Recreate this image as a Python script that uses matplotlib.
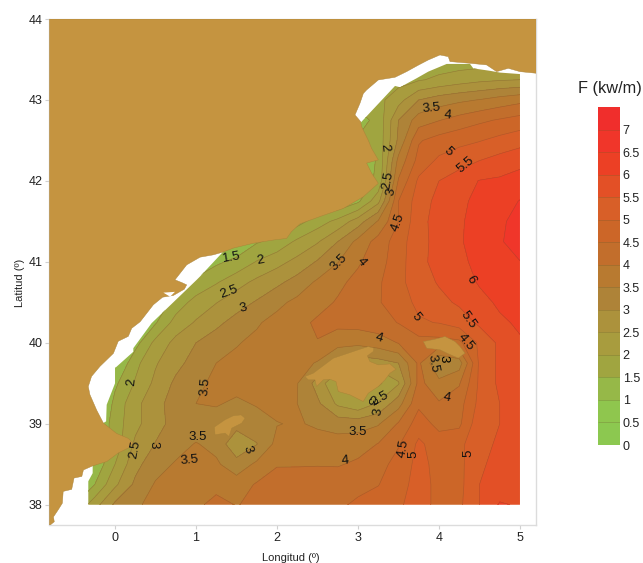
# Wave energy flux map, western Mediterranean

import numpy as np
import matplotlib
matplotlib.use("Agg")
import matplotlib.pyplot as plt
from matplotlib.colors import ListedColormap, BoundaryNorm
from matplotlib.patches import Polygon

plt.rcParams["font.family"] = ["Liberation Sans", "DejaVu Sans"]

# Grid of the field
lons = [-0.5, -0.25, 0, 0.25, 0.5, 0.75, 1, 1.25, 1.5, 1.75, 2, 2.25, 2.5, 2.75, 3, 3.25, 3.5, 3.75, 4, 4.25, 4.5, 4.75, 5]
lats = [38, 38.25, 38.5, 38.75, 39, 39.25, 39.5, 39.75, 40, 40.25, 40.5, 40.75, 41, 41.25, 41.5, 41.75, 42, 42.25, 42.5, 42.75, 43, 43.25, 43.5]
flux = [
    [1.5, 2.3, 3.1, 3.45, 3.6, 3.75, 3.9, 4.15, 3.98, 4.1, 4.2, 4.3, 4.4, 4.45, 4.55, 4.75, 4.95, 5.15, 4.9, 4.9, 5.5, 6.05, 5.95],
    [1.3, 1.5, 2.4, 3.1, 3.55, 3.7, 3.78, 3.85, 3.75, 4.05, 4.12, 4.2, 4.28, 4.35, 4.42, 4.48, 4.85, 5.15, 4.9, 4.85, 5.5, 5.7, 5.9],
    [0.9, 1.1, 2.0, 2.85, 3.3, 3.55, 3.62, 3.58, 3.2, 3.6, 3.98, 3.97, 3.97, 3.95, 4.1, 4.3, 4.7, 5.15, 4.85, 4.85, 5.45, 5.6, 5.7],
    [1.0, 1.0, 1.7, 2.6, 3.02, 3.3, 3.53, 3.35, 2.6, 2.98, 3.65, 3.72, 3.72, 3.7, 3.75, 4.02, 4.45, 5.1, 4.75, 4.85, 5.4, 5.55, 5.6],
    [0.2, 0.9, 1.75, 2.35, 2.85, 3.15, 3.2, 3.25, 3.2, 3.25, 3.48, 3.55, 3.42, 3.3, 3.3, 3.45, 4.05, 4.75, 4.35, 4.4, 5.35, 5.5, 5.55],
    [0.3, 0.6, 1.65, 2.35, 2.85, 3.2, 3.5, 3.55, 3.4, 3.55, 3.65, 3.5, 3.1, 2.4, 2.1, 2.55, 3.3, 4.4, 4.05, 4.3, 5.15, 5.5, 5.65],
    [0.3, 0.6, 1.4, 2.05, 2.62, 3.1, 3.4, 3.6, 3.7, 3.8, 3.75, 3.52, 2.8, 2.0, 1.9, 1.9, 2.45, 4.15, 3.65, 3.95, 5.1, 5.6, 5.65],
    [0.5, 0.7, 0.9, 1.85, 2.45, 2.85, 3.2, 3.5, 3.6, 3.7, 3.75, 3.72, 3.45, 2.9, 2.7, 2.8, 3.0, 4.1, 3.0, 3.25, 5.1, 5.6, 5.85],
    [0.5, 0.7, 0.9, 1.3, 2.15, 2.65, 3.0, 3.25, 3.47, 3.6, 3.72, 3.85, 3.98, 3.68, 3.62, 3.75, 4.02, 4.28, 4.3, 4.38, 5.1, 5.6, 5.95],
    [0.5, 0.7, 0.8, 0.9, 1.45, 2.2, 2.55, 2.88, 3.18, 3.45, 3.65, 3.85, 4.08, 4.15, 4.2, 4.3, 4.52, 4.95, 5.02, 5.22, 5.6, 5.92, 6.07],
    [0.5, 0.6, 0.7, 0.8, 1.1, 1.7, 2.2, 2.48, 2.78, 3.05, 3.38, 3.62, 3.82, 4.05, 4.22, 4.45, 4.8, 5.1, 5.35, 5.58, 5.85, 6.08, 6.2],
    [0.5, 0.6, 0.7, 0.8, 1.0, 1.3, 1.6, 1.95, 2.3, 2.62, 2.88, 3.2, 3.58, 3.88, 4.15, 4.42, 4.87, 5.25, 5.55, 5.75, 6.05, 6.18, 6.3],
    [0.5, 0.6, 0.7, 0.8, 0.9, 1.0, 1.2, 1.4, 1.65, 2.03, 2.33, 2.65, 3.05, 3.48, 3.93, 4.3, 4.78, 5.38, 5.65, 5.9, 6.12, 6.3, 6.48],
    [0.5, 0.6, 0.7, 0.8, 0.9, 0.9, 1.0, 1.0, 1.0, 1.45, 1.65, 2.1, 2.45, 3.0, 3.65, 4.2, 4.75, 5.35, 5.65, 5.95, 6.2, 6.42, 6.85],
    [0.5, 0.6, 0.7, 0.8, 0.9, 0.9, 1.0, 1.0, 1.0, 1.0, 1.1, 1.3, 1.75, 2.15, 2.75, 3.55, 4.5, 5.35, 5.68, 5.93, 6.2, 6.4, 6.7],
    [0.5, 0.6, 0.7, 0.8, 0.9, 0.9, 1.0, 1.0, 1.0, 1.0, 1.0, 1.0, 1.0, 1.0, 1.4, 2.35, 4.5, 5.25, 5.65, 5.9, 6.12, 6.3, 6.52],
    [0.5, 0.6, 0.7, 0.8, 0.9, 0.9, 1.0, 1.0, 1.0, 1.0, 1.0, 1.0, 1.0, 1.0, 1.2, 1.6, 4.05, 5.1, 5.5, 5.75, 6.02, 6.08, 6.2],
    [0.5, 0.6, 0.7, 0.8, 0.9, 0.9, 1.0, 1.0, 1.0, 1.0, 1.0, 1.0, 1.0, 1.0, 1.2, 1.55, 3.65, 4.68, 5.1, 5.3, 5.5, 5.68, 5.85],
    [0.5, 0.6, 0.7, 0.8, 0.9, 0.9, 1.0, 1.0, 1.0, 1.0, 1.0, 1.0, 1.0, 1.2, 1.55, 1.65, 3.1, 4.45, 4.7, 4.85, 4.97, 5.15, 5.3],
    [0.5, 0.6, 0.7, 0.8, 0.9, 0.9, 1.0, 1.0, 1.0, 1.0, 1.0, 1.0, 1.0, 1.0, 1.3, 1.65, 3.0, 3.75, 3.98, 4.2, 4.4, 4.55, 4.7],
    [0.5, 0.6, 0.7, 0.8, 0.9, 0.9, 1.0, 1.0, 1.0, 1.0, 1.0, 1.0, 1.0, 1.6, 1.7, 1.85, 2.3, 3.0, 3.25, 3.4, 3.52, 3.7, 3.85],
    [0.5, 0.6, 0.7, 0.8, 0.9, 0.9, 1.0, 1.0, 1.0, 1.0, 1.0, 1.0, 1.0, 1.6, 1.6, 1.75, 1.8, 1.95, 2.1, 2.25, 2.38, 2.45, 2.5],
    [0.5, 0.6, 0.7, 0.8, 0.9, 0.9, 1.0, 1.0, 1.0, 1.0, 1.0, 1.0, 1.0, 1.6, 1.6, 1.7, 1.7, 1.7, 1.7, 1.7, 1.7, 1.7, 1.7],
]

levels = [0, 0.5, 1, 1.5, 2, 2.5, 3, 3.5, 4, 4.5, 5, 5.5, 6, 6.5, 7, 7.5]
band_colors = ["#8CC850", "#8FC64E", "#96B848", "#A0A540", "#A89C3E", "#AC923C", "#AE8338", "#B87A30",
               "#C26E2C", "#CC6628", "#D85F28", "#E35026", "#EC4025", "#F0362A", "#F02E2C"]
land_color = "#C59440"
bar_ticks = [0, 0.5, 1, 1.5, 2, 2.5, 3, 3.5, 4, 4.5, 5, 5.5, 6, 6.5, 7]
bar_tick_labels = ["0", "0.5", "1", "1.5", "2", "2.5", "3", "3.5", "4", "4.5", "5", "5.5", "6", "6.5", "7"]

# Coastline of the mainland, lon/lat
coast = [(-0.80, 37.75), (-0.75, 37.79), (-0.76, 37.85), (-0.70, 37.94), (-0.65, 38.02), (-0.64, 38.165), (-0.535, 38.19),
         (-0.506, 38.33), (-0.41, 38.35), (-0.39, 38.43), (-0.276, 38.48), (-0.10, 38.535), (0.04, 38.64), (0.164, 38.70),
         (0.226, 38.76), (0.164, 38.82), (0.02, 38.88), (-0.144, 39.01), (-0.227, 39.17), (-0.31, 39.36), (-0.33, 39.46),
         (-0.29, 39.585), (-0.185, 39.71), (-0.02, 39.87), (0.04, 40.02), (0.164, 40.08), (0.206, 40.18), (0.31, 40.26),
         (0.473, 40.47), (0.588, 40.564), (0.72, 40.585), (0.856, 40.663), (0.885, 40.716), (0.823, 40.745), (0.74, 40.778),
         (0.885, 40.963), (1.05, 41.058), (1.214, 41.087), (1.33, 41.12), (1.46, 41.17), (1.708, 41.23), (1.954, 41.27),
         (2.119, 41.29), (2.18, 41.375), (2.284, 41.47), (2.531, 41.56), (2.819, 41.66), (3.066, 41.805), (3.251, 41.97),
         (3.169, 42.095), (3.107, 42.22), (3.251, 42.26), (3.169, 42.40), (3.128, 42.50), (3.045, 42.67), (3.033, 42.733),
         (2.963, 42.815), (3.025, 42.96), (3.066, 43.08), (3.107, 43.124), (3.251, 43.247), (3.457, 43.28), (3.60, 43.35),
         (3.745, 43.43), (3.868, 43.494), (4.012, 43.556), (4.115, 43.535), (4.136, 43.474), (4.383, 43.453), (4.588, 43.433),
         (4.712, 43.35), (4.856, 43.391), (5.0, 43.35), (5.2, 43.33), (5.2, 44), (-0.81, 44), (-0.81, 37.75)]
lagoon = [(0.597, 40.62), (0.74, 40.63), (0.68, 40.57)]
ibiza = [(1.227, 38.96), (1.235, 38.864), (1.358, 38.885), (1.408, 38.844), (1.441, 38.946), (1.564, 39.008), (1.605, 39.07),
         (1.556, 39.11), (1.461, 39.10), (1.358, 39.05), (1.297, 39.008)]
mallorca = [(2.345, 39.584), (2.386, 39.543), (2.469, 39.543), (2.489, 39.46), (2.571, 39.543), (2.654, 39.55), (2.728, 39.522),
            (2.757, 39.399), (2.901, 39.358), (3.065, 39.275), (3.127, 39.378), (3.25, 39.46), (3.333, 39.543), (3.395, 39.625),
            (3.469, 39.674), (3.395, 39.74), (3.25, 39.728), (3.148, 39.769), (3.115, 39.839), (3.189, 39.893), (3.197, 39.934),
            (3.127, 39.954), (3.024, 39.921), (2.695, 39.81), (2.448, 39.625)]
menorca = [(3.807, 40.016), (3.848, 39.934), (4.013, 39.914), (4.116, 39.864), (4.239, 39.811), (4.321, 39.872), (4.259, 39.955),
           (4.198, 40.016), (4.074, 40.078), (3.951, 40.045)]

# Outline of the area the model covers
sea_area = [(-0.33, 38), (5, 38), (5, 43.32), (4.753, 43.338), (4.63, 43.36), (4.424, 43.39), (4.383, 43.445), (4.095, 43.445),
            (3.868, 43.35), (3.724, 43.268), (3.519, 43.157), (3.457, 43.173), (3.033, 42.72), (3.0, 42.5), (2.0, 41.6),
            (1.33, 41.2), (1.33, 41.12), (1.05, 40.82), (1.008, 40.778), (0.452, 40.243), (0.226, 39.934), (0.226, 39.89),
            (0, 39.688), (0, 39.5), (-0.103, 39.235), (-0.11, 39.03), (-0.144, 39.01), (-0.3, 38.6), (-0.276, 38.48),
            (-0.276, 38.39), (-0.33, 38.29)]

# Isoline labels: text, lon, lat, rotation
iso_labels = [("1.5", 1.444, 41.05, 10), ("2", 1.79, 41.02, 10), ("2.5", 1.407, 40.63, 20), ("3", 1.58, 40.43, 15),
              ("3.5", 1.11, 39.46, 85), ("3.5", 2.765, 40.99, 45), ("4", 3.04, 41.0, -50), ("2", 0.21, 39.52, 85),
              ("2.5", 0.247, 38.68, 80), ("3", 0.47, 38.74, -90), ("3.5", 1.025, 38.84, 0), ("3.5", 0.914, 38.556, 5),
              ("3", 1.64, 38.68, -70), ("4", 3.26, 40.06, -15), ("3.5", 2.99, 38.90, 0), ("4", 2.84, 38.55, 5),
              ("4.5", 3.556, 38.69, 80), ("5", 3.69, 38.62, 90), ("5", 4.36, 38.63, 90), ("4", 4.10, 39.32, -10),
              ("3.5", 3.93, 39.75, -80), ("4.5", 4.33, 40.01, -50), ("5.5", 4.36, 40.28, -55), ("5", 3.72, 40.32, -50),
              ("6", 4.395, 40.78, -60), ("4.5", 3.49, 41.49, 70), ("5", 4.11, 42.36, -45), ("5.5", 4.33, 42.2, 40),
              ("3.5", 3.91, 42.90, 5), ("4", 4.11, 42.81, -5), ("2", 3.33, 42.41, -85), ("2.5", 3.37, 42.0, 80),
              ("3", 3.41, 41.86, 80), ("2.5", 3.27, 39.31, 30), ("3", 3.15, 39.28, -90), ("3", 3.25, 39.15, 80)]

fig = plt.figure(figsize=(6.43, 5.63), dpi=100)
ax = fig.add_axes([49.5 / 643, 1 - 525 / 563, 486.5 / 643, 506 / 563])

cmap = ListedColormap(band_colors)
norm = BoundaryNorm(levels, cmap.N)

# Filled bands and isolines, clipped to the model area
area = Polygon(sea_area, closed=True, transform=ax.transData, fill=False, edgecolor="none")
ax.add_patch(area)
filled = ax.contourf(lons, lats, np.array(flux), levels=levels, cmap=cmap, norm=norm, zorder=1)
lines = ax.contour(lons, lats, np.array(flux), levels=levels, colors="#6E5228", linewidths=0.45, alpha=0.4, zorder=2)
filled.set_clip_path(area)
lines.set_clip_path(area)

# This label is half hidden by Menorca
ax.text(4.06, 39.81, "3", fontsize=9.5, rotation=-90, ha="center", va="center", zorder=3)

for shape in [coast, ibiza, mallorca, menorca]:
    ax.add_patch(Polygon(shape, closed=True, facecolor=land_color, edgecolor="#A88238", linewidth=0.3, zorder=4))
ax.add_patch(Polygon(lagoon, closed=True, facecolor="white", edgecolor="none", zorder=5))

for text, lon, lat, rot in iso_labels:
    ax.text(lon, lat, text, fontsize=9.5, rotation=rot, ha="center", va="center", color="#111111", zorder=6)

ax.set_xlim(-0.809, 5.198)
ax.set_ylim(37.75, 44)
ax.set_xticks([0, 1, 2, 3, 4, 5])
ax.set_yticks([38, 39, 40, 41, 42, 43, 44])
ax.tick_params(colors="#D0D0D0", labelcolor="#222222", labelsize=9, length=3, width=0.8, pad=2)
for spine in ax.spines.values():
    spine.set_color("#DCDCDC")
    spine.set_linewidth(1)
ax.set_xlabel("Longitud (º)", fontsize=8, color="#222222")
ax.set_ylabel("Latitud (º)", fontsize=8, color="#222222")
ax.xaxis.set_label_coords(0.496, -0.056)
ax.yaxis.set_label_coords(-0.05, 0.478)

# Colour bar on the right
bar = fig.add_axes([598 / 643, 1 - 445 / 563, 22 / 643, 338 / 563])
bar.pcolormesh([0, 1], levels, np.array(levels[:-1]).reshape(-1, 1), cmap=cmap, norm=norm)
bar.hlines(levels[1:-1], 0, 1, colors="#6E5228", linewidth=0.45, alpha=0.4)
bar.set_xticks([])
bar.yaxis.tick_right()
bar.set_yticks(bar_ticks, bar_tick_labels)
bar.tick_params(length=0, labelsize=9, labelcolor="#222222", pad=2)
for spine in bar.spines.values():
    spine.set_visible(False)
fig.text(610 / 643, 1 - 88 / 563, "F (kw/m)", fontsize=11.8, color="#222222", ha="center", va="center")

# Save graph
fig.savefig("out.png", dpi=100)
